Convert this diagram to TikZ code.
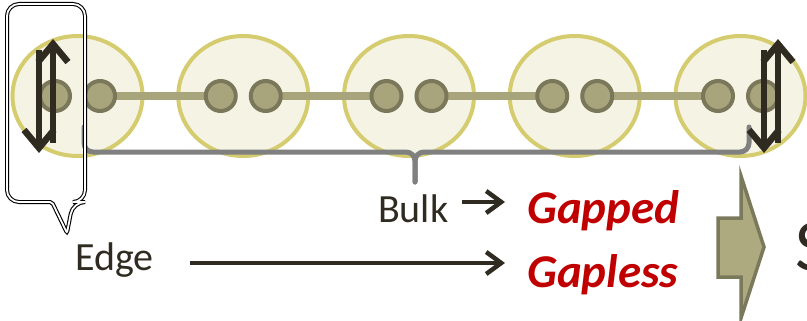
\documentclass[tikz,border=0pt]{standalone}
\usepackage{fontspec}
\setmainfont{Carlito}
\usetikzlibrary{arrows.meta,shapes.geometric}

\definecolor{cellfill}{HTML}{F5F3E3}
\definecolor{cellline}{HTML}{D5CC70}
\definecolor{dotfill}{HTML}{A8A47C}
\definecolor{dotline}{HTML}{7A775A}
\definecolor{bracegray}{HTML}{808080}
\definecolor{ink}{HTML}{2F2B21}
\definecolor{hired}{HTML}{C00000}
\definecolor{blockfill}{HTML}{ADAA7F}
\definecolor{blockline}{HTML}{7B795B}

\pgfdeclarelayer{cells}
\pgfdeclarelayer{links}
\pgfsetlayers{cells,links,main}

\tikzset{
  cell/.style={ellipse, draw=cellline, fill=cellfill, line width=4pt,
    minimum width=130pt, minimum height=120pt, inner sep=0pt},
  site/.style={circle, draw=dotline, fill=dotfill, line width=4pt,
    minimum size=30pt, inner sep=0pt},
  link/.style={draw=dotfill, line width=8pt},
  bracepath/.style={draw=bracegray, line width=5pt, rounded corners=9pt,
    line cap=round},
  flip/.style={draw=ink, line width=6.5pt,
    -{Straight Barb[length=18pt,width=30pt]}},
  pointer/.style={draw=ink, line width=4.5pt,
    -{Straight Barb[length=15pt,width=22pt]}},
  callout/.style={draw=black, line width=1.1pt, double=white,
    double distance=1.8pt},
  plain/.style={font=\fontsize{40}{48}\selectfont, text=ink, inner sep=0pt},
  phase/.style={font=\fontsize{47}{56}\selectfont\bfseries\itshape,
    text=hired, inner sep=0pt},
  bigarrow/.style={draw=blockline, fill=blockfill, line width=3.5pt,
    line join=miter}
}

\begin{document}
\begin{tikzpicture}[x=1pt,y=-1pt]
\useasboundingbox (0,0) rectangle (807,321);

% unit cells
\begin{pgfonlayer}{cells}
\foreach \i/\cx in {1/77.5,2/243.25,3/409,4/574.75,5/740.5}
  \node[cell] (c\i) at (\cx,96) {};
\end{pgfonlayer}

% sites: two per cell
\foreach \i/\cx in {1/77.5,2/243.25,3/409,4/574.75,5/740.5}{
  \node[site] (a\i) at (\cx-22.5,96) {};
  \node[site] (b\i) at (\cx+22.5,96) {};
}

% bonds between neighbouring cells
\begin{pgfonlayer}{links}
\foreach \i/\j in {1/2,2/3,3/4,4/5}
  \draw[link] (b\i.center) -- (a\j.center);
\end{pgfonlayer}

% brace under the bulk
\coordinate (brL) at (84,127);
\coordinate (brM) at (415,182);
\coordinate (brR) at (749,127);
\draw[bracepath] (brL) -- (84,152) -- (415,152) -- (brM);
\draw[bracepath] (brM) -- (415,152) -- (749,152) -- (brR);

% edge spin flips
\draw[flip] (39,50) -- (39,153);
\draw[flip] (53,143) -- (53,39);
\draw[flip] (764,50) -- (764,153);
\draw[flip] (778,143) -- (778,39);

% callout around the left edge
\draw[callout] (7,100) [rounded corners=12pt] -- (7,4) -- (85,4) -- (85,202)
  -- (73,202) [rounded corners=2pt] -- (67,233) -- (52,202)
  [rounded corners=12pt] -- (7,202) -- cycle;

% labels
\node[plain, anchor=base west] (bulk) at (378,222) {Bulk};
\node[plain, anchor=base west] (edge) at (75,270) {Edge};
\node[phase, anchor=base west] (gapped) at (527,223) {Gapped};
\node[phase, anchor=base west] (gapless) at (527,287) {Gapless};

\coordinate (bulkTo) at (462,202);
\coordinate (gappedIn) at (505,202);
\coordinate (edgeTo) at (190,263);
\coordinate (gaplessIn) at (505,263);
\draw[pointer] (bulkTo) -- (gappedIn);
\draw[pointer] (edgeTo) -- (gaplessIn);

% block arrow and following text
\draw[bigarrow] (718,218) -- (741,218) -- (741,176) -- (764,247)
  -- (741,318) -- (741,277) -- (718,277) -- cycle;
\node[plain, font=\fontsize{73}{80}\selectfont, anchor=base west] (next) at (795,270) {S};
\end{tikzpicture}
\end{document}
